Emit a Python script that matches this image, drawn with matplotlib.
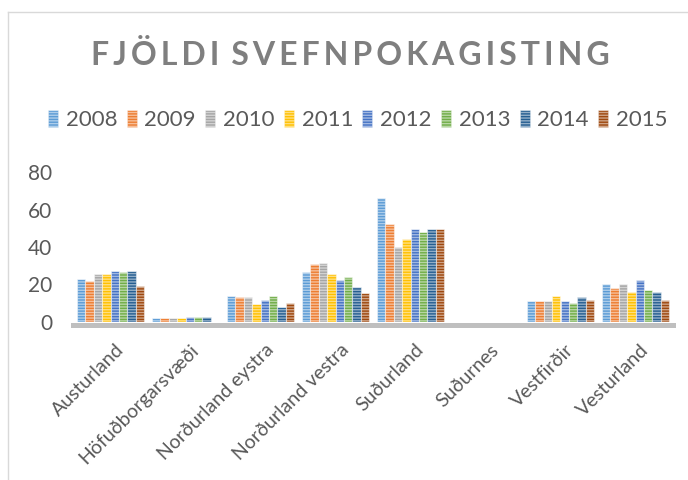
import matplotlib
matplotlib.use("Agg")
import matplotlib.pyplot as plt
from matplotlib.patches import Patch
from matplotlib.lines import Line2D
import numpy as np

plt.rcParams['font.family'] = ['Lato', 'DejaVu Sans']

regions = ['Austurland', 'Höfuðborgarsvæði', 'Norðurland eystra', 'Norðurland vestra',
           'Suðurland', 'Suðurnes', 'Vestfirðir', 'Vesturland']
years = ['2008', '2009', '2010', '2011', '2012', '2013', '2014', '2015']

# one list per year, values in region order
v2008 = [23, 2, 13.8, 26.5, 66.3, 0, 11.3, 20.5]
v2009 = [22, 2, 13.1, 31, 52.2, 0, 11.3, 18.2]
v2010 = [25.5, 2, 13.1, 31.6, 40, 0, 11.3, 20.5]
v2011 = [25.5, 2, 9.5, 25.6, 44.3, 0, 13.8, 16.2]
v2012 = [27.2, 2.8, 12, 22.2, 49.4, 0, 11.3, 22.2]
v2013 = [26.5, 2.8, 13.8, 24, 47.8, 0, 10.4, 17.3]
v2014 = [27.2, 2.8, 7.9, 18.9, 49.4, 0, 13.1, 16.2]
v2015 = [19, 0, 10.4, 15.5, 49.4, 0, 12, 12]
series = [v2008, v2009, v2010, v2011, v2012, v2013, v2014, v2015]

colors = ['#5B9BD5', '#ED7D31', '#A5A5A5', '#FFC000',
          '#4472C4', '#70AD47', '#255E91', '#9E480E']

txt = '#595959'

fig = plt.figure(figsize=(6.88, 4.8), dpi=100)
ax = fig.add_axes([73 / 688, 1 - 322 / 480, 600 / 688, 150 / 480])

# spine position first: moving it resets the tick labels
for s in ['top', 'right', 'left']:
    ax.spines[s].set_visible(False)
ax.spines['bottom'].set_position(('outward', 1.8))
ax.spines['bottom'].set_color('#bfbfbf')
ax.spines['bottom'].set_linewidth(3.6)

x = np.arange(len(regions))
w = 0.112
for i, (vals, c) in enumerate(zip(series, colors)):
    ax.bar(x + (i - 3.5) * w, vals, width=w, color=c,
           edgecolor=(1, 1, 1, 0.5), linewidth=0.8, hatch='------', zorder=2)

ax.set_xlim(-0.5, len(regions) - 0.5)
ax.set_ylim(0, 80)
ax.set_yticks([0, 20, 40, 60, 80])
ax.tick_params(axis='y', length=0, labelsize=15, labelcolor=txt, pad=15)
ax.tick_params(axis='x', length=0, pad=12)
ax.set_xticks(x + 0.06)
ax.set_xticklabels(regions, rotation=45, ha='right', rotation_mode='anchor',
                   fontsize=14, color=txt)

handles = [Patch(facecolor=c, edgecolor=(1, 1, 1, 0.5), hatch='------', linewidth=0.5)
           for c in colors]
fig.legend(handles, years, loc='center', bbox_to_anchor=(0.52, 0.75), ncol=8,
           frameon=False, fontsize=16, labelcolor=txt, handlelength=0.45,
           handleheight=0.8, handletextpad=0.35, columnspacing=0.42)

title = '\u2009'.join('FJÖLDI') + '\u2009\u2009\u2009' + '\u2009'.join('SVEFNPOKAGISTING')
fig.text(0.509, 0.885, title, ha='center', va='center', fontsize=23,
         fontweight='bold', color='#7f7f7f')

# chart border (top and left edges visible)
fig.add_artist(Line2D([8 / 688, 8 / 688], [0, 1 - 12 / 480], transform=fig.transFigure,
                      color='#d9d9d9', lw=1))
fig.add_artist(Line2D([8 / 688, 1], [1 - 12 / 480, 1 - 12 / 480], transform=fig.transFigure,
                      color='#d9d9d9', lw=1))

fig.savefig('out.png', dpi=100)
